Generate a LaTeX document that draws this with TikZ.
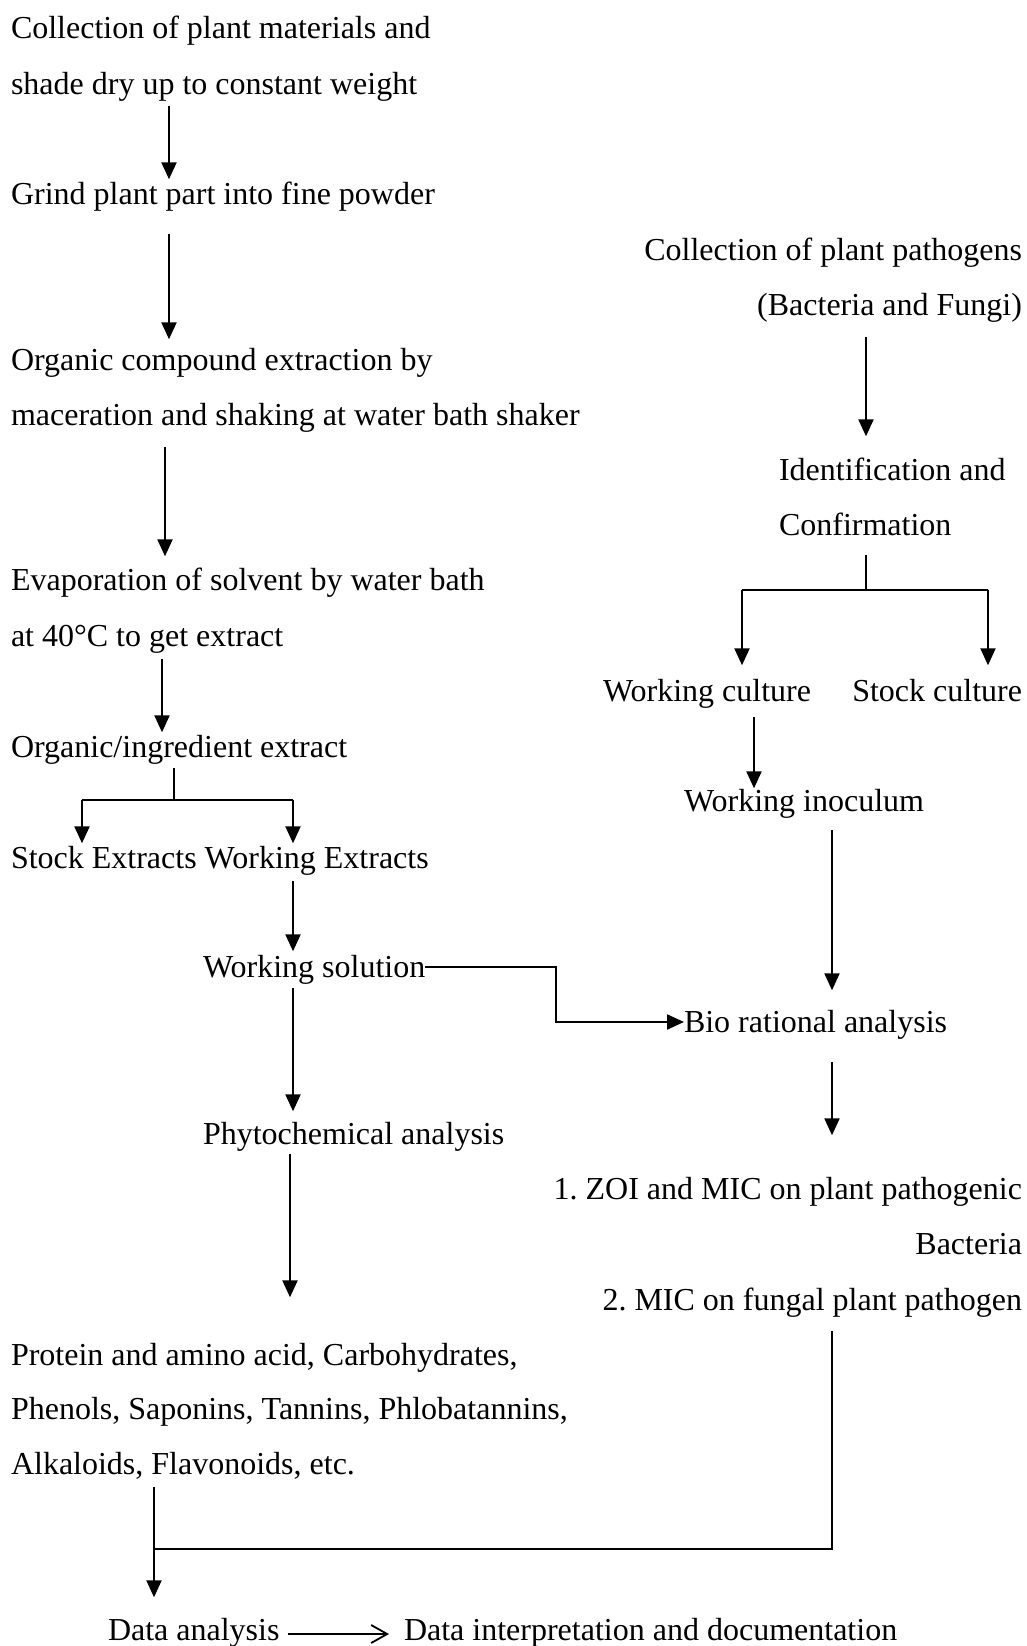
\documentclass[tikz,border=0pt]{standalone}
\usepackage{fontspec}
\setmainfont{Liberation Serif}
\usetikzlibrary{arrows.meta}
\frenchspacing
\begin{document}
\begin{tikzpicture}[x=1pt,y=-1pt,
  txt/.style={inner sep=0pt,outer sep=0pt,font=\fontsize{32}{38}\selectfont,text height=22pt,text depth=7pt},
  lw/.style={txt,anchor=mid west},
  re/.style={txt,anchor=mid east},
  arr/.style={line width=2.2pt,-{Triangle[length=17pt,width=15pt]}},
  ln/.style={line width=2.2pt},
  oarr/.style={line width=2pt,-{Straight Barb[length=16pt,width=18pt,line width=1.8pt]}}]
\useasboundingbox (0,0) rectangle (1027,1646);
\begin{scope}[yshift=-8pt]
% left column
\node[lw] (n1) at (11,28) {Collection of plant materials and};
\node[lw] (n2) at (11,84) {shade dry up to constant weight};
\node[lw] (n3) at (11,194) {Grind plant part into fine powder};
\node[lw] (n4) at (11,360) {Organic compound extraction by};
\node[lw] (n5) at (11,415) {maceration and shaking at water bath shaker};
\node[lw] (n6) at (11,580) {Evaporation of solvent by water bath};
\node[lw] (n7) at (11,636) {at 40°C to get extract};
\node[lw] (n8) at (11,747) {Organic/ingredient extract};
\node[lw] (sx) at (11,858) {Stock Extracts};
\node[lw] (wx) at ([xshift=8pt]sx.mid east) {Working Extracts};
\node[lw] (ws) at (203,967) {Working solution};
\node[lw] (phy) at (203,1134) {Phytochemical analysis};
\node[lw] (p1) at (11,1355) {Protein and amino acid, Carbohydrates,};
\node[lw] (p2) at (11,1409) {Phenols, Saponins, Tannins, Phlobatannins,};
\node[lw] (p3) at (11,1464) {Alkaloids, Flavonoids, etc.};
\node[lw] (da) at (108,1630) {Data analysis};
\node[lw] (di) at (404,1630) {Data interpretation and documentation};
% right column
\node[re] (r1) at (1022,250) {Collection of plant pathogens};
\node[re] (r2) at (1022,305) {(Bacteria and Fungi)};
\node[lw] (r3) at (779,470) {Identification and};
\node[lw] (r4) at (779,525) {Confirmation};
\node[lw] (wc) at (603,691) {Working culture};
\node[re] (sc) at (1022,691) {Stock culture};
\node[lw] (wi) at (684,801) {Working inoculum};
\node[lw] (bio) at (684,1022) {Bio rational analysis};
\node[re] (z1) at (1022,1189) {1. ZOI and MIC on plant pathogenic};
\node[re] (z2) at (1022,1244) {Bacteria};
\node[re] (z3) at (1022,1300) {2. MIC on fungal plant pathogen};
\end{scope}
% column coordinates
\coordinate (xa) at (169,0);
\coordinate (xb) at (165,0);
\coordinate (xc) at (162,0);
\coordinate (xd) at (174,0);
\coordinate (xe) at (82,0);
\coordinate (xf) at (293,0);
\coordinate (xg) at (290,0);
\coordinate (xh) at (154,0);
\coordinate (xi) at (556,0);
\coordinate (xj) at (832,0);
\coordinate (xk) at (866,0);
\coordinate (xl) at (742,0);
\coordinate (xm) at (988,0);
\coordinate (xn) at (754,0);
\coordinate (bl) at (0,800);
\coordinate (br) at (0,590);
\coordinate (mg) at (154,1549);
\coordinate (wsE) at ([yshift=8pt]ws.mid east);
\coordinate (bioW) at ([yshift=8pt]bio.mid west);
\coordinate (daE) at ([yshift=4pt]da.mid east);
\coordinate (diW) at ([yshift=4pt]di.mid west);
% left connectors
\draw[arr,shorten <=5pt,shorten >=3pt] (n2.south -| xa) -- (n3.north -| xa);
\draw[arr,shorten <=23pt,shorten >=9pt] (n3.south -| xa) -- (n4.north -| xa);
\draw[arr,shorten <=15pt,shorten >=12pt] (n5.south -| xb) -- (n6.north -| xb);
\draw[arr,shorten <=6pt,shorten >=3pt] (n7.south -| xc) -- (n8.north -| xc);
\draw[ln,shorten <=4pt] (n8.south -| xd) -- (xd |- bl);
\draw[ln] (xe |- bl) -- (xf |- bl);
\draw[arr,shorten >=3pt] (xe |- bl) -- (sx.north -| xe);
\draw[arr,shorten >=3pt] (xf |- bl) -- (wx.north -| xf);
\draw[arr,shorten <=6pt,shorten >=4pt] (wx.south -| xf) -- (ws.north -| xf);
\draw[arr] (wsE) -- (xi |- wsE) -- (xi |- bioW) -- (bioW);
\draw[arr,shorten <=4pt,shorten >=11pt] (ws.south -| xf) -- (phy.north -| xf);
\draw[arr,shorten <=3pt,shorten >=46pt] (phy.south -| xg) -- (p1.north -| xg);
\draw[arr,shorten <=6pt,shorten >=21pt] (p3.south -| xh) -- (da.north -| xh);
\draw[ln,shorten <=14pt] (z3.south -| xj) -- (xj |- mg) -- (mg);
\draw[oarr,shorten <=8pt,shorten >=15pt] (daE) -- (diW);
% right connectors
\draw[arr,shorten <=15pt,shorten >=22pt] (r2.south -| xk) -- (r3.north -| xk);
\draw[ln,shorten <=13pt] (r4.south -| xk) -- (xk |- br);
\draw[ln] (xl |- br) -- (xm |- br);
\draw[arr,shorten >=14pt] (xl |- br) -- (wc.north -| xl);
\draw[arr,shorten >=14pt] (xm |- br) -- (sc.north -| xm);
\draw[arr,shorten <=9pt,shorten >=1pt] (wc.south -| xn) -- (wi.north -| xn);
\draw[arr,shorten <=12pt,shorten >=20pt] (wi.south -| xj) -- (bio.north -| xj);
\draw[arr,shorten <=23pt,shorten >=42pt] (bio.south -| xj) -- (z1.north -| xj);
\end{tikzpicture}
\end{document}
